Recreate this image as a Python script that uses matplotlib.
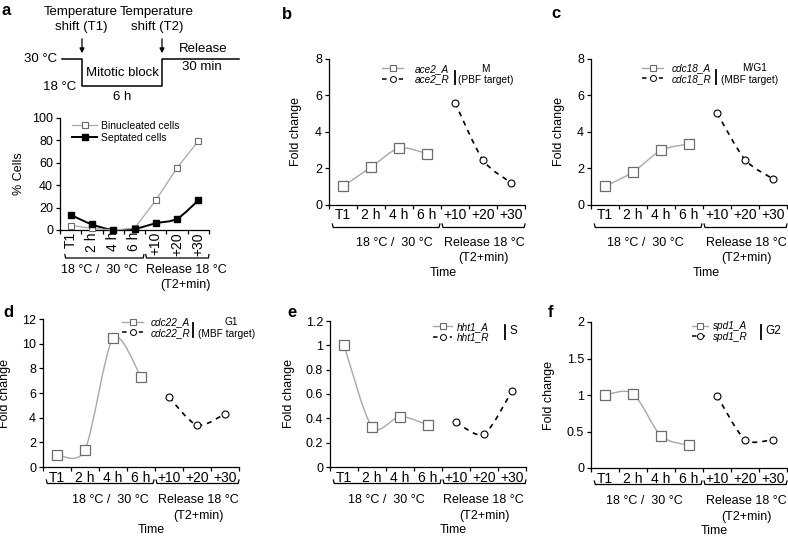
import numpy as np
import matplotlib
matplotlib.use("Agg")
import matplotlib.pyplot as plt
from matplotlib.path import Path
from matplotlib.patches import PathPatch
from matplotlib.lines import Line2D

plt.rcParams["font.family"] = "Liberation Sans"

# --- data ---
time_labels = ["T1", "2 h", "4 h", "6 h", "+10", "+20", "+30"]
binucleated = [4, 1.5, 0, 1.5, 26.5, 55.5, 79.5]
septated = [13.5, 5, 0, 1, 6, 10, 26.5]

ace2_A = [1.0, 2.05, 3.1, 2.8]
ace2_R = [5.6, 2.45, 1.2]
cdc18_A = [1.0, 1.78, 2.98, 3.33]
cdc18_R = [5.03, 2.47, 1.41]
cdc22_A = [1.0, 1.4, 10.45, 7.3]
cdc22_R = [5.65, 3.4, 4.3]
hht1_A = [1.0, 0.33, 0.415, 0.345]
hht1_R = [0.37, 0.27, 0.625]
spd1_A = [1.0, 1.02, 0.44, 0.31]
spd1_R = [0.99, 0.39, 0.39]

W, H = 788, 537
fig = plt.figure(figsize=(W / 100, H / 100), dpi=100)
GRAY = "#a8a8a8"
SQ_EDGE = "#6b6b6b"


def px_axes(l, t, r, b):
    return fig.add_axes([l / W, 1 - b / H, (r - l) / W, (b - t) / H])


def ftext(x, y, s, **kw):
    kw.setdefault("fontsize", 9)
    fig.text(x / W, 1 - y / H, s, **kw)


def smooth_path(x, y):
    # Catmull-Rom curve through the points, drawn as bezier segments
    pts = np.column_stack([x, y]).astype(float)
    p = np.vstack([pts[0], pts, pts[-1]])
    verts = [pts[0]]
    codes = [Path.MOVETO]
    for i in range(1, len(p) - 2):
        p0, p1, p2, p3 = p[i - 1], p[i], p[i + 1], p[i + 2]
        verts += [p1 + (p2 - p0) / 7, p2 - (p3 - p1) / 7, p2]
        codes += [Path.CURVE4] * 3
    return Path(verts, codes)


def style(ax, labels_dy, rotate=False):
    for s in ["top", "right"]:
        ax.spines[s].set_visible(False)
    for s in ["left", "bottom"]:
        ax.spines[s].set_linewidth(0.9)
    ax.set_xlim(-0.5, 6.5)
    ax.set_xticks(np.arange(-0.5, 7, 1))
    ax.set_xticklabels([])
    ax.set_xticks(np.arange(7), minor=True)
    ax.tick_params(direction="out", length=3, width=0.9, labelsize=9, pad=2)
    if rotate:
        ax.set_xticklabels(time_labels, minor=True, rotation=90, va="top")
    else:
        ax.set_xticklabels(time_labels, minor=True)
    ax.tick_params(axis="x", which="minor", length=0, pad=labels_dy)


def bracket(ax, x0, x1, dy, hook=3.5):
    h = ax.bbox.height
    ax.plot([x0, x0 + 0.03, x1 - 0.03, x1], [-(dy - hook) / h, -dy / h, -dy / h, -(dy - hook) / h],
            transform=ax.get_xaxis_transform(), color="black", lw=0.9, clip_on=False)


def undertext(ax, x, dy, s, size=9):
    ax.text(x, -dy / ax.bbox.height, s, transform=ax.get_xaxis_transform(),
            ha="center", va="center", fontsize=size)


# --- panel a: schematic ---
ftext(2, 15, "a", fontsize=12, fontweight="bold", va="baseline")
sch = fig.add_axes([0, 0, 1, 1], facecolor="none")
sch.set_xlim(0, W)
sch.set_ylim(H, 0)
sch.axis("off")
sch.plot([62, 82, 82, 162, 162, 239], [59, 59, 86, 86, 59, 59], color="black", lw=1.1)
for xa in (82, 162):
    sch.annotate("", xy=(xa, 56), xytext=(xa, 36),
                 arrowprops=dict(arrowstyle="-|>", color="black", lw=0.9, mutation_scale=7))
ftext(81, 12, "Temperature", ha="center", va="center", fontsize=9.5)
ftext(81, 27, "shift (T1)", ha="center", va="center", fontsize=9.5)
ftext(157, 12, "Temperature", ha="center", va="center", fontsize=9.5)
ftext(157, 27, "shift (T2)", ha="center", va="center", fontsize=9.5)
ftext(57, 59, "30 °C", ha="right", va="center", fontsize=9.5)
ftext(76, 87, "18 °C", ha="right", va="center", fontsize=9.5)
ftext(122, 73, "Mitotic block", ha="center", va="center", fontsize=9.5)
ftext(122, 97, "6 h", ha="center", va="center", fontsize=9.5)
ftext(203, 49, "Release", ha="center", va="center", fontsize=9.5)
ftext(202, 67, "30 min", ha="center", va="center", fontsize=9.5)

# --- panel a: % cells ---
x = np.arange(7)
ax = px_axes(60, 118, 209, 230)
style(ax, 1.5, rotate=True)
ax.set_ylim(0, 100)
ax.set_yticks(np.arange(0, 101, 20))
ax.plot(x, binucleated, color=GRAY, lw=0.9, marker="s", ms=4, mfc="white", mec=SQ_EDGE,
        mew=0.8, clip_on=False, zorder=3)
ax.add_patch(PathPatch(smooth_path(x, septated), fill=False, ec="black", lw=1.4, zorder=2))
ax.plot(x, septated, ls="none", marker="s", ms=4, color="black", clip_on=False, zorder=4)
ax.set_ylabel("% Cells", fontsize=9)
ax.yaxis.set_label_coords(-0.235, 0.5)
hb = Line2D([], [], color=GRAY, lw=0.9, marker="s", ms=4, mfc="white", mec=SQ_EDGE, mew=0.8)
hs = Line2D([], [], color="black", lw=1.4, marker="s", ms=4)
ax.legend([hb, hs], ["Binucleated cells", "Septated cells"], loc="center left",
          bbox_to_anchor=(72 / W, 1 - 132 / H), bbox_transform=fig.transFigure,
          frameon=False, borderpad=0, borderaxespad=0, handlelength=2.4, handletextpad=0.4,
          labelspacing=0.2, fontsize=7.5)
bracket(ax, -0.27, 3.44, 28)
bracket(ax, 3.53, 6.5, 28)
undertext(ax, 1.37, 40, "18 °C /  30 °C")
undertext(ax, 5.46, 40, "Release 18 °C")
undertext(ax, 5.4, 55, "(T2+min)")

# --- panels b-f ---
panels = [
    dict(letter="b", box=(329, 59, 525, 204.5), A=ace2_A, R=ace2_R, names=("ace2_A", "ace2_R"),
         ylim=8, yticks=[0, 2, 4, 6, 8], ylab=["0", "2", "4", "6", "8"], ylx=-0.138,
         leg=(382, 74, 416), bar=(455, 71, 84), phase=[("M", 485, 69), ("(PBF target)", 486, 80)],
         lbl=(282, 19), dy=(9, 23, 38, 53, 68), txt=(1.82, 5.04, 5.0, 3.57)),
    dict(letter="c", box=(591, 59, 787, 204.5), A=cdc18_A, R=cdc18_R, names=("cdc18_A", "cdc18_R"),
         ylim=8, yticks=[0, 2, 4, 6, 8], ylab=["0", "2", "4", "6", "8"], ylx=-0.133,
         leg=(642, 73.5, 673), bar=(716, 70, 84), phase=[("M/G1", 755, 68), ("(MBF target)", 750, 80)],
         lbl=(551, 18), dy=(9, 23, 38, 53, 68), txt=(1.43, 5.05, 5.05, 3.6)),
    dict(letter="d", box=(43, 319, 239, 467), A=cdc22_A, R=cdc22_R, names=("cdc22_A", "cdc22_R"),
         ylim=12, yticks=[0, 2, 4, 6, 8, 10, 12], ylab=["0", "2", "4", "6", "8", "10", "12"], ylx=-0.163,
         leg=(122, 327.5, 152), bar=(193.3, 323, 337), phase=[("G1", 231.7, 322), ("(MBF target)", 227, 334)],
         lbl=(3, 317), dy=(9.5, 16.5, 33, 49, 63), txt=(1.9, 5.05, 5.05, 3.38)),
    dict(letter="e", box=(330, 321, 526, 467), A=hht1_A, R=hht1_R, names=("hht1_A", "hht1_R"),
         ylim=1.2, yticks=[0, 0.2, 0.4, 0.6, 0.8, 1.0, 1.2],
         ylab=["0", "0.2", "0.4", "0.6", "0.8", "1", "1.2"], ylx=-0.179,
         leg=(433, 332, 458), bar=(505, 325, 339), phase=[("S", 509, 331)],
         lbl=(287, 317), dy=(9.5, 16.5, 33, 49, 63), txt=(1.5, 4.99, 5.0, 3.9)),
    dict(letter="f", box=(591, 322, 787, 468), A=spd1_A, R=spd1_R, names=("spd1_A", "spd1_R"),
         ylim=2, yticks=[0, 0.5, 1, 1.5, 2], ylab=["0", "0.5", "1", "1.5", "2"], ylx=-0.185,
         leg=(692, 331.5, 714), bar=(761, 325, 339), phase=[("G2", 765, 331)],
         lbl=(548, 317), dy=(9.5, 16.5, 33, 49, 63), txt=(1.42, 5.04, 5.04, 3.9)),
]

xA = np.arange(4)
xR = np.arange(4, 7)
for p in panels:
    ax = px_axes(*p["box"])
    style(ax, p["dy"][0] - 6.5)
    ax.set_ylim(0, p["ylim"])
    ax.set_yticks(p["yticks"])
    ax.set_yticklabels(p["ylab"])
    ax.set_ylabel("Fold change", fontsize=9)
    ax.yaxis.set_label_coords(p["ylx"], 0.5)

    ax.add_patch(PathPatch(smooth_path(xA, p["A"]), fill=False, ec=GRAY, lw=1.0, zorder=2))
    ax.plot(xA, p["A"], ls="none", marker="s", ms=6.5, mfc="white", mec=SQ_EDGE, mew=0.9,
            zorder=3, clip_on=False)
    ax.add_patch(PathPatch(smooth_path(xR, p["R"]), fill=False, ec="black", lw=1.2,
                           ls=(0, (3, 3)), zorder=2))
    ax.plot(xR, p["R"], ls="none", marker="o", ms=5, mfc="white", mec="black", mew=0.8,
            zorder=3, clip_on=False)

    # legend
    lx, ly, tx = p["leg"]
    fs = 7.2
    fs_px = fs * 100 / 72
    hl_px = min(21, tx - lx - 6)
    hA = Line2D([], [], color=GRAY, lw=1.0, marker="s", ms=4.8, mfc="white", mec=SQ_EDGE, mew=0.8)
    hR = Line2D([], [], color="black", lw=1.1, ls=(0, (3, 2.5)), marker="o", ms=4.3, mfc="white",
                mec="black", mew=0.7)
    ax.legend([hA, hR], p["names"], loc="center left", bbox_to_anchor=(lx / W, 1 - ly / H),
              bbox_transform=fig.transFigure, frameon=False, borderpad=0, borderaxespad=0,
              handlelength=hl_px / fs_px, handletextpad=(tx - lx - hl_px - 1) / fs_px,
              labelspacing=0.05, prop=dict(family="Liberation Sans", style="italic", size=fs))
    bx, by0, by1 = p["bar"]
    fig.add_artist(Line2D([bx / W, bx / W], [1 - by0 / H, 1 - by1 / H], color="black", lw=1.3))
    for s, px_, py_ in p["phase"]:
        if len(p["phase"]) == 1:
            ftext(px_, py_, s, ha="left", va="center", fontsize=8.5)
        else:
            ftext(px_, py_, s, ha="center", va="center", fontsize=7.3)

    ftext(p["lbl"][0], p["lbl"][1], p["letter"], fontsize=12, fontweight="bold", va="baseline")

    d_lab, d_br, d_t1, d_t2, d_time = p["dy"]
    c1, c2, c3, c4 = p["txt"]
    bracket(ax, -0.38, 3.46, d_br)
    bracket(ax, 3.54, 6.5, d_br)
    undertext(ax, c1, d_t1, "18 °C /  30 °C")
    undertext(ax, c2, d_t1, "Release 18 °C")
    undertext(ax, c3, d_t2, "(T2+min)")
    undertext(ax, c4, d_time, "Time")

fig.savefig("out.png", dpi=100)
